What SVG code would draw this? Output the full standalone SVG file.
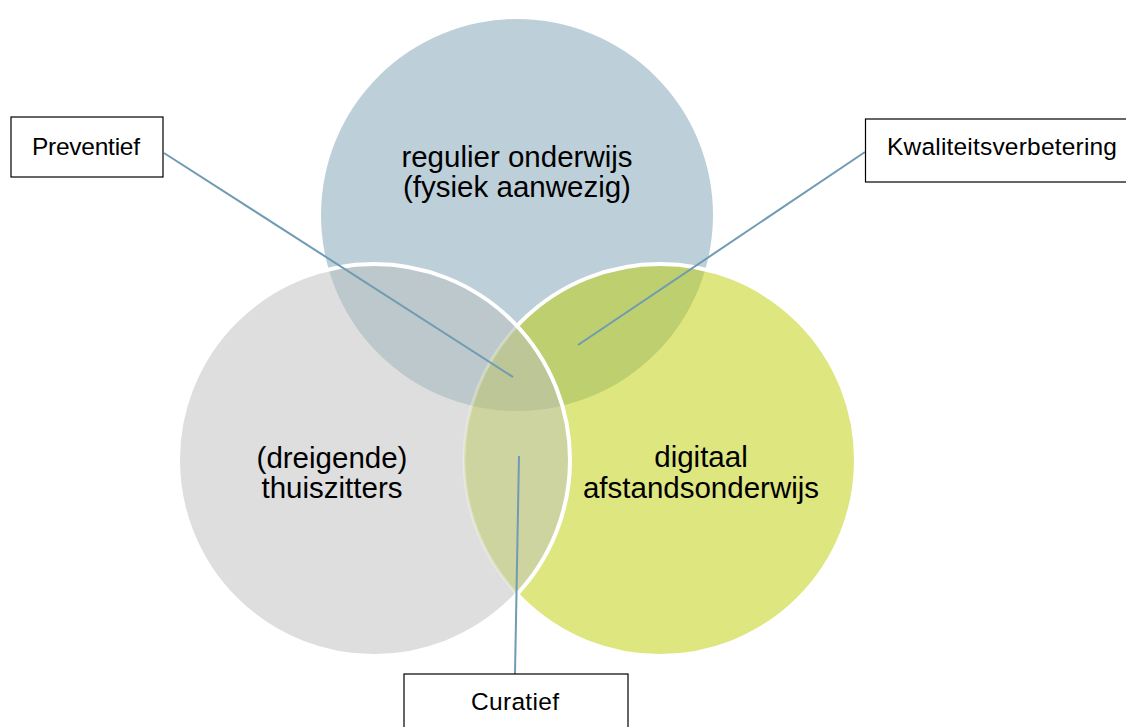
<svg xmlns="http://www.w3.org/2000/svg" width="1126" height="727" viewBox="0 0 1126 727">
<style>
.lbl{font-family:"Liberation Sans",Arial,sans-serif;font-size:29.5px;fill:#000;text-anchor:middle}
.box{fill:#fff;stroke:#000;stroke-width:1.2}
.btxt{font-family:"Liberation Sans",Arial,sans-serif;font-size:24.5px;fill:#000}
.conn{stroke:#6f9bb3;stroke-width:2;fill:none}
.ws{fill:none;stroke:#fff;stroke-width:4}
</style>
<defs>
<circle id="cBlue" cx="517" cy="215" r="196"/>
<circle id="cGray" cx="374" cy="460" r="196"/>
<circle id="cGreen" cx="660" cy="460" r="196"/>
<clipPath id="clipBlue"><use href="#cBlue"/></clipPath>
<clipPath id="clipGreen"><use href="#cGreen"/></clipPath>
<clipPath id="clipGray"><use href="#cGray"/></clipPath>
<mask id="outsideGray" maskUnits="userSpaceOnUse" x="0" y="0" width="1126" height="727">
<rect x="0" y="0" width="1126" height="727" fill="#fff"/>
<circle cx="374" cy="460" r="196" fill="#000"/>
</mask>
</defs>
<rect x="0" y="0" width="1126" height="727" fill="#fff"/>
<g id="node-regulier">
<use href="#cBlue" fill="#bdd0da"/>
</g>
<g id="node-digitaal">
<use href="#cGreen" fill="#dee67f"/>
</g>
<g id="node-thuiszitters">
<use href="#cGray" fill="#dedede"/>
</g>
<g id="overlaps">
<g clip-path="url(#clipBlue)"><use href="#cGray" fill="#bdc8cd"/></g>
<g clip-path="url(#clipBlue)"><use href="#cGreen" fill="#bdcf6f"/></g>
<g clip-path="url(#clipGreen)"><use href="#cGray" fill="#ced4a0"/></g>
<g clip-path="url(#clipGreen)"><g clip-path="url(#clipBlue)"><use href="#cGray" fill="#bcc697"/></g></g>
<g clip-path="url(#clipGray)"><use href="#cGreen" fill="none" stroke="#fff" stroke-opacity="0.3" stroke-width="3"/></g>
<use href="#cGreen" class="ws" mask="url(#outsideGray)"/>
<use href="#cGray" class="ws"/>
</g>
<g id="labels">
<text class="lbl" x="517" y="167">regulier onderwijs</text>
<text class="lbl" x="517" y="197">(fysiek aanwezig)</text>
<text class="lbl" x="332" y="468">(dreigende)</text>
<text class="lbl" x="332" y="498">thuiszitters</text>
<text class="lbl" x="701" y="467">digitaal</text>
<text class="lbl" x="701" y="498">afstandsonderwijs</text>
</g>
<g id="connectors">
<line class="conn" x1="164" y1="153" x2="513" y2="377"/>
<line class="conn" x1="865" y1="152" x2="578" y2="345"/>
<line class="conn" x1="519" y1="456" x2="515" y2="674"/>
</g>
<g id="node-preventief">
<rect class="box" x="11" y="117" width="152" height="60"/>
<text class="btxt" x="32" y="155" textLength="108">Preventief</text>
</g>
<g id="node-kwaliteitsverbetering">
<rect class="box" x="865.5" y="119" width="270" height="63"/>
<text class="btxt" x="887" y="155" textLength="230">Kwaliteitsverbetering</text>
</g>
<g id="node-curatief">
<rect class="box" x="404" y="674" width="224" height="70"/>
<text class="btxt" x="471" y="710" textLength="88">Curatief</text>
</g>
</svg>
